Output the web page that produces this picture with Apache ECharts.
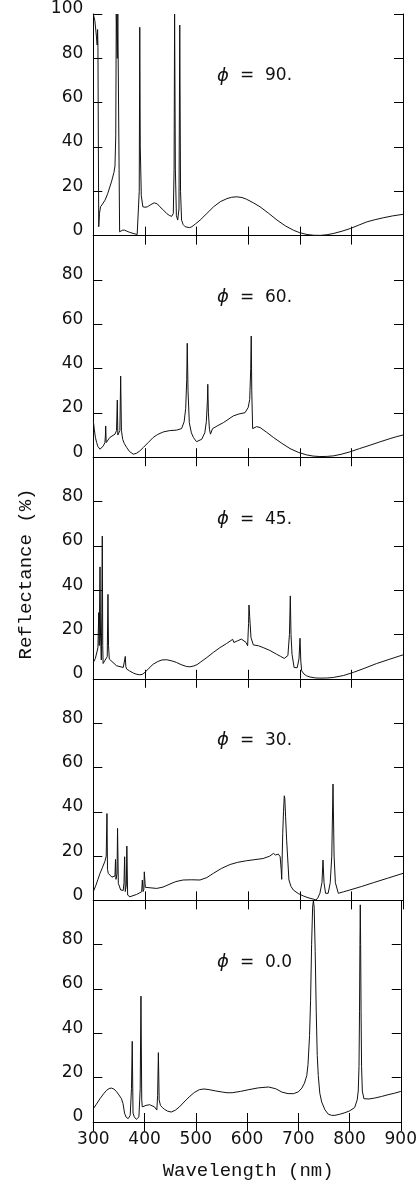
<!DOCTYPE html>
<html>
<head>
<meta charset="utf-8">
<script src="https://cdn.jsdelivr.net/npm/echarts@6/dist/echarts.min.js"></script>
<style>
  html, body { margin: 0; padding: 0; background: #fff; }
  #chart { width: 420px; height: 1191px; }
</style>
</head>
<body>
<div id="chart"></div>
<script>
// panel labels, top to bottom
const angles = ["90.", "60.", "45.", "30.", "0.0"];
const xTicks = [300, 400, 500, 600, 700, 800, 900];
const yTicks = [0, 20, 40, 60, 80, 100];

// phi = 90
const wl90 = [300, 303, 306, 307.5, 308.3, 309, 310.5, 312, 314, 318,
  322.7, 328, 335.6, 340, 342, 343.5, 344.5, 345.5, 346.5, 347.5,
  348.5, 350, 351, 353, 356, 360, 364, 370, 377, 385,
  388, 389, 390, 391, 393, 396, 400, 405, 410, 418,
  424, 429, 436, 442, 448, 452, 455, 456.5, 457.5, 459,
  461, 463.5, 466, 467.5, 469, 471, 474, 478, 481, 486,
  491, 498, 507, 520, 533, 546, 559, 568, 578, 588,
  597, 610, 623, 640, 656, 672, 688, 700, 714, 727,
  740, 753, 766, 782, 798, 814, 830, 846, 863, 880,
  900];
const r90 = [100, 97, 90, 86, 93, 85, 4, 10, 13, 14.3,
  16, 19, 24.6, 28.5, 31.4, 45, 100, 100, 80, 100,
  100, 30, 1.7, 1.9, 2.4, 2.5, 2.1, 1.5, 1, 0.5,
  1, 20, 94, 40, 18, 13, 12.8, 13, 13.8, 14.8,
  14.3, 13, 11.5, 10, 9, 8.7, 10, 30, 100, 30,
  9, 7, 12, 95, 20, 7, 5, 4, 3.6, 3.6,
  4, 5.3, 7, 10, 13, 15.3, 16.7, 17.3, 17.5, 17.2,
  16.4, 14.8, 13, 10, 7, 4.4, 2.4, 1.3, 0.5, 0.15,
  0.1, 0.4, 1, 2, 3.2, 4.7, 6.2, 7.2, 8.1, 8.9,
  9.6];

// phi = 60
const wl60 = [300, 302, 304, 306.5, 309, 313, 316, 319.4, 322.5, 323.5,
  324, 325, 332, 342, 345, 346.5, 347.5, 349, 351.5, 353,
  354.5, 357, 360, 364.6, 370, 377.5, 384, 390, 397, 406,
  416, 425, 435.6, 448, 461, 471, 476, 479, 481, 482,
  483.5, 486, 490, 494, 500, 510, 516, 519, 521, 521.8,
  523, 525, 527, 531, 540, 552, 561, 571, 582, 594,
  600, 603, 605, 606, 607, 608.7, 612, 616.5, 623, 635,
  649, 665, 681, 697, 713, 726, 739, 752, 765, 780,
  797, 816, 836, 855, 875, 888, 900];
const r60 = [16.4, 12.5, 9, 6.6, 4.8, 3.6, 4, 5.1, 6.6, 10,
  14.1, 6.6, 8.9, 10.4, 12, 25.8, 10, 9.6, 12, 36.6,
  12, 8, 6.2, 4.4, 2.6, 1.35, 1.8, 2.8, 4.4, 6.5,
  8.9, 10.3, 11.4, 12, 12.2, 12.9, 16, 22, 35, 51.4,
  30, 15.6, 11, 8.9, 7, 8.1, 11, 16, 25, 32.9,
  20, 12.6, 10.4, 12.9, 14.1, 15.6, 17, 18.6, 19.5, 20.1,
  22.4, 26, 40, 54.7, 30, 12.9, 13.5, 13.8, 13.4, 11.4,
  8.9, 6.3, 3.9, 2.2, 1.05, 0.5, 0.3, 0.35, 0.6, 1.3,
  2.4, 3.9, 5.4, 6.9, 8.4, 9.3, 10];

// phi = 45
const wl45 = [300, 304, 306.5, 309, 310.5, 311.5, 312.5, 313, 314, 315.5,
  316.5, 317.4, 318.3, 319, 322, 325, 327, 328.4, 329.5, 331,
  333, 345, 358, 361, 362, 363, 364.6, 370, 377.5, 383,
  390, 395, 400, 408, 416, 425, 433, 442, 452, 461,
  470, 480, 487, 495, 501, 507, 520, 532.5, 545, 558,
  565, 570, 571.3, 572.3, 580, 587, 596, 599, 600.8, 601.6,
  603, 605.5, 610, 620, 629, 642, 655, 663, 670, 677,
  680, 681.7, 683, 685, 689, 695, 698.5, 700.5, 702, 703.7,
  708, 713, 720, 730, 739, 752, 765, 785, 804, 826,
  849, 875, 900];
const r45 = [7.4, 9.2, 9.9, 14, 29.9, 15, 40, 50.5, 20, 8.5,
  30, 64.4, 15, 6.9, 8.1, 8, 10, 38.1, 15, 8.9,
  8.6, 5.9, 5.1, 6, 10.1, 5.5, 4.4, 3.6, 2.6, 2.1,
  1.8, 2, 2.9, 4.8, 6.6, 7.8, 8.5, 8.6, 8.1, 7.4,
  6.4, 5.6, 5.4, 5.8, 6.4, 7.4, 9.6, 11.9, 14, 15.9,
  17, 17.8, 18.6, 16.4, 17.2, 17.9, 16.4, 14.9, 25, 33.3,
  28, 18.6, 15.3, 14.9, 14.1, 12.8, 11.1, 10.1, 9.2, 10.5,
  20, 37.4, 20, 11.1, 5.1, 5, 9, 18.3, 8, 3.6,
  2.2, 1.35, 0.8, 0.4, 0.3, 0.35, 0.6, 1.5, 2.9, 4.8,
  6.9, 8.9, 10.8];

// phi = 30
const wl30 = [300, 305, 309, 313, 318, 322.6, 325, 326.5, 327.5, 329,
  332, 336, 339, 342, 343, 344, 346, 347, 348.5, 353,
  358, 359.5, 360.7, 362, 364, 365, 366.5, 371, 384, 393.7,
  395, 396.5, 398, 398.8, 400.8, 410, 422.7, 435, 448.6, 460,
  474, 490, 506.7, 520, 532.5, 548, 565, 580, 597, 613,
  629, 642, 649, 653, 658.5, 662, 664, 665, 667, 668.5,
  670, 671, 672.5, 674.6, 679, 683, 687.5, 697, 707, 716,
  726, 731.5, 735, 739, 743, 745, 747, 750, 755, 759,
  762, 764.4, 766.5, 769, 774.7, 785, 797, 820, 842.6, 870,
  900];
const r30 = [3.9, 6.8, 9.5, 12.2, 15, 17.7, 20, 39.2, 14, 12.2,
  11.4, 10.5, 9.9, 11, 18.5, 9.5, 12, 32.5, 7.7, 4.7,
  4.5, 8, 19.7, 4, 7, 24.5, 2.4, 1.65, 2.7, 3.9,
  9.2, 4, 5, 12.9, 5.9, 5.7, 5.4, 6, 7.4, 8.5,
  9.2, 9.3, 9.2, 10.3, 12.2, 14.4, 16.2, 17.2, 17.9, 18.4,
  18.9, 20, 21.2, 20.5, 20.9, 19.7, 14, 9.5, 30.2, 40,
  47.2, 46, 38, 27.2, 9.2, 6.3, 4.7, 3.1, 2, 1.2,
  0.6, 0.15, 1.2, 3.2, 8, 18.2, 8, 3.2, 3.2, 8,
  20, 52.5, 20, 8, 3.2, 3.9, 4.7, 6.3, 8, 10,
  12.2];

// phi = 0
const wl0 = [300, 306, 313, 320, 326, 331, 335.5, 340, 345, 350,
  355, 358, 361, 364, 368, 372, 374.5, 376, 377.5, 380,
  384, 389, 391.5, 393, 394.5, 395.6, 403, 410, 419.5, 424,
  425.5, 427, 428.5, 431, 435, 439, 445, 452, 460, 468,
  477, 487, 497, 507, 516, 526, 539, 552, 561, 571,
  587, 603.6, 622, 642, 656, 668, 680, 691, 700, 707,
  712, 716.6, 719, 722, 724, 726, 728, 729.5, 731, 733,
  735, 737, 739, 742, 745.7, 752, 758.6, 765, 771.5, 781,
  791, 800, 810, 815, 817, 818.5, 819.5, 820.3, 821, 821.7,
  822.5, 823.5, 825, 828, 838, 849, 862, 875, 888, 900];
const r0 = [6, 8, 10.5, 12.7, 14.3, 15.1, 15.3, 14.9, 13.8, 12.2,
  10.5, 8.3, 4, 2.2, 1.5, 3, 15, 36.4, 4, 2.3,
  1.2, 2.3, 15, 56.8, 10, 6.8, 7.5, 7.8, 6.8, 5.4,
  12, 31.3, 10, 7.5, 6.5, 5.7, 4.9, 4.5, 5.3, 6.8,
  9, 11.3, 13.3, 14.6, 14.9, 14.6, 14, 13.5, 13.2, 13.2,
  13.8, 14.6, 15.4, 15.8, 15, 13.5, 12.8, 12.8, 13.6, 15.3,
  17.5, 21, 26, 39, 55, 80, 97, 100, 97, 77,
  50, 30, 21, 13, 9, 5.5, 3.5, 3, 3, 3.5,
  4.2, 5, 6.5, 10, 14, 25, 50, 80, 98, 80,
  50, 25, 14, 10.5, 10.4, 10.8, 11.5, 12.3, 13, 13.8];

const panels = [[wl90, r90], [wl60, r60], [wl45, r45], [wl30, r30], [wl0, r0]];

const plotLeft = 93.3;
const plotWidth = 309.7;
const panelTop = 14;
const panelH = 221.6;
const numFont = "DejaVu Sans";

const grid = [], xAxis = [], yAxis = [], series = [], graphic = [];

panels.forEach(function (p, i) {
  const top = panelTop + i * panelH;
  grid.push({ left: plotLeft, top: top, width: plotWidth, height: panelH });

  const xBase = {
    gridIndex: i, type: "value", min: 300, max: 900, interval: 100,
    axisLine: { show: true, lineStyle: { color: "#000", width: 1 } },
    axisTick: { show: true, inside: true, length: 9, lineStyle: { color: "#000" } },
    splitLine: { show: false }
  };
  xAxis.push(Object.assign({}, xBase, {
    position: "bottom",
    axisLabel: {
      show: i === panels.length - 1, margin: 9,
      fontFamily: numFont, fontSize: 17, color: "#111",
      formatter: function (v) { return xTicks.indexOf(v) >= 0 ? String(v) : ""; }
    }
  }));
  xAxis.push(Object.assign({}, xBase, { position: "top", axisLabel: { show: false } }));

  const yBase = {
    gridIndex: i, type: "value", min: 0, max: 100, interval: 20,
    axisLine: { show: true, lineStyle: { color: "#000", width: 1 } },
    axisTick: { show: true, inside: true, length: 9, lineStyle: { color: "#000" } },
    splitLine: { show: false }
  };
  yAxis.push(Object.assign({}, yBase, {
    position: "left",
    axisLabel: {
      margin: 10, fontFamily: numFont, fontSize: 17, color: "#111",
      verticalAlign: "bottom", lineHeight: 10,
      formatter: function (v) {
        if (yTicks.indexOf(v) < 0) return "";
        if (v === 100 && i > 0) return "";
        return String(v);
      }
    }
  }));
  yAxis.push(Object.assign({}, yBase, { position: "right", axisLabel: { show: false } }));

  series.push({
    type: "line",
    xAxisIndex: 2 * i,
    yAxisIndex: 2 * i,
    showSymbol: false,
    symbol: "none",
    lineStyle: { color: "#111", width: 1 },
    data: p[0].map(function (w, k) { return [w, p[1][k]]; })
  });

  // phi label
  graphic.push({
    type: "text", x: 217, y: top + 62,
    style: {
      text: "\u03D5", font: "italic 18px " + numFont, fill: "#111",
      textAlign: "left", textVerticalAlign: "middle", align: "left", verticalAlign: "middle"
    }
  });
  graphic.push({
    type: "text", x: 240, y: top + 62,
    style: {
      text: "=  " + angles[i], font: "17px " + numFont, fill: "#111",
      textAlign: "left", textVerticalAlign: "middle", align: "left", verticalAlign: "middle"
    }
  });
});

// axis titles
graphic.push({
  type: "text", x: plotLeft + plotWidth / 2, y: 1171,
  style: {
    text: "Wavelength (nm)", font: "19px 'Liberation Mono'", fill: "#111",
    textAlign: "center", textVerticalAlign: "middle", align: "center", verticalAlign: "middle"
  }
});
graphic.push({
  type: "text", x: 26, y: 574, rotation: Math.PI / 2,
  style: {
    text: "Reflectance (%)", font: "19px 'Liberation Mono'", fill: "#111",
    textAlign: "center", textVerticalAlign: "middle", align: "center", verticalAlign: "middle"
  }
});

const chart = echarts.init(document.getElementById("chart"), null, { renderer: "canvas" });
chart.setOption({
  animation: false,
  backgroundColor: "#fff",
  grid: grid,
  xAxis: xAxis,
  yAxis: yAxis,
  series: series,
  graphic: graphic
});
</script>
</body>
</html>
